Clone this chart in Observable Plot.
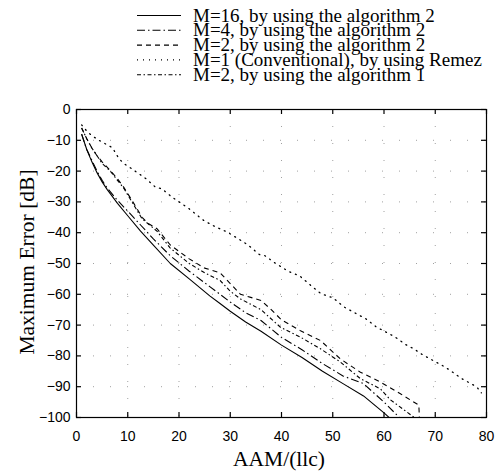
<!DOCTYPE html>
<html><head><meta charset="utf-8">
<script src="https://cdn.jsdelivr.net/npm/d3@7"></script>
<script src="https://cdn.jsdelivr.net/npm/@observablehq/plot@0.6"></script>
<style>
body{margin:0;background:#fff;width:498px;height:475px;overflow:hidden;position:relative}
#legend{position:absolute;left:0;top:0}
#chart{position:absolute;left:0;top:95px}
</style>
</head><body>
<div id="legend"></div>
<div id="chart"></div>
<script>
// ---- data ----
const xTicks = [0,10,20,30,40,50,60,70,80];
const yTicks = [0,-10,-20,-30,-40,-50,-60,-70,-80,-90,-100];
const xLabel = "AAM/(llc)";
const yLabel = "Maximum Error [dB]";
const seriesNames = [
  "M=16, by using the algorithm 2",
  "M=4, by using the algorithm 2",
  "M=2, by using the algorithm 2",
  "M=1 (Conventional), by using Remez",
  "M=2, by using the algorithm 1"
];
const seriesDash = ["none","8,3,1.5,3","5,4","1,5","4,2.5,1.5,2.5"];

const m16X = [1,2,3,4,5,6,8,10,12.5,15,18.3,22,26,28,30,33,36,40,44,48,52,56,60,61];
const m16Y = [-8,-13,-17,-20.5,-23.5,-26,-30.5,-34.5,-39.5,-44,-50,-55,-60.5,-63,-65.5,-69,-72,-76.5,-80.5,-85,-89,-93,-98.5,-100];

const m4X = [1,2,3,4,5,6,8,10,12.5,15,18.3,22,26,30,33,36,40,44,48,52,56,60,63];
const m4Y = [-8,-13,-16.5,-20,-23,-25.5,-29.5,-33,-37.5,-42,-47.5,-52.5,-57.5,-62.5,-66,-68.5,-74,-78,-82.5,-86.5,-89,-95,-100];

const m2a2X = [1,2,3,4,5,6.6,8,9.2,11,12.8,14,15.7,18.3,22,25,28,30,32,34,36,38,40,43.7,47.6,51.5,55.4,59.3,63.2,66.8,66.9];
const m2a2Y = [-6,-9.5,-12.5,-15,-17,-19.8,-22.5,-25.2,-30,-35,-37,-38.7,-44,-48.5,-51.5,-53,-56.5,-60,-61,-62,-65,-68.3,-71.8,-75,-81,-85.3,-88.5,-92.3,-96,-100];

const m1X = [1,2,3,4.4,5.7,7,8.3,9.3,11,13.5,15.4,16.7,18.6,21.8,24.8,27,29.4,31.2,33.4,35.7,36.7,38.7,41.3,43.6,45.7,47.7,50.1,52.2,54.5,56.5,58.5,62.1,64.4,65.7,67.6,71.8,72.8,75.1,77.4,78.3,79];
const m1Y = [-5,-7,-8.5,-10,-11.2,-12.4,-16,-17.6,-19.5,-22.4,-25.2,-25.8,-28.4,-32,-36,-38,-39.8,-41.6,-43.9,-47.1,-47.4,-49.8,-52.5,-54.1,-57.1,-59.8,-61.2,-64.1,-66.2,-68,-70.6,-73.8,-76.5,-77.6,-79.7,-83.5,-84.6,-87.3,-89.4,-90.5,-92];

const m2a1X = [1,2,3,4,5,6.6,8,9.2,11,12.8,15.7,18.3,22,25,28,30,32,36,39.8,43.7,47.6,51.5,55.4,59.3,61.2,65.9];
const m2a1Y = [-6,-9.5,-12.5,-15,-17.5,-20,-23,-25.5,-30.5,-35.5,-39.5,-45,-50,-53,-55.5,-59,-61.5,-65,-70.7,-73.9,-77.7,-82,-87.4,-90.7,-94.2,-100];

const seriesX = [m16X, m4X, m2a2X, m1X, m2a1X];
const seriesY = [m16Y, m4Y, m2a2Y, m1Y, m2a1Y];

// ---- chart ----
const W = 498, H = 380, mL = 76, mR = 12, mT = 14, mB = 58;
const pw = W - mL - mR, ph = H - mT - mB, tk = 5;

const lineMarks = seriesX.map((xs, i) => Plot.line(xs.map((x, j) => ({x, y: seriesY[i][j]})), {
  x: "x", y: "y", stroke: "#000", strokeWidth: i === 3 ? 1.3 : 1.1,
  strokeDasharray: seriesDash[i] === "none" ? null : seriesDash[i],
  strokeLinecap: i === 3 ? "round" : "butt", clip: true
}));

const chart = Plot.plot({
  width: W, height: H, marginLeft: mL, marginRight: mR, marginTop: mT, marginBottom: mB,
  style: {background: "#fff", color: "#000"},
  x: {domain: [0, 80]},
  y: {domain: [-100, 0]},
  marks: [
    Plot.gridX(xTicks, {stroke: "#777", strokeOpacity: 0.7, strokeDasharray: "1,16"}),
    Plot.gridY(yTicks, {stroke: "#777", strokeOpacity: 0.7, strokeDasharray: "1,16"}),
    ...lineMarks,
    Plot.frame({stroke: "#000", strokeWidth: 1.2}),
    Plot.tickX(xTicks, {x: d => d, insetTop: ph - tk, stroke: "#000", strokeWidth: 1.2}),
    Plot.tickX(xTicks, {x: d => d, insetBottom: ph - tk, stroke: "#000", strokeWidth: 1.2}),
    Plot.tickY(yTicks, {y: d => d, insetRight: pw - tk, stroke: "#000", strokeWidth: 1.2}),
    Plot.tickY(yTicks, {y: d => d, insetLeft: pw - tk, stroke: "#000", strokeWidth: 1.2}),
    Plot.axisX(xTicks, {tickSize: 0, tickPadding: 14, label: null, fontSize: 14, fontFamily: "Liberation Sans, Arial, sans-serif"}),
    Plot.axisY(yTicks, {tickSize: 0, tickPadding: 6, label: null, fontSize: 14, fontFamily: "Liberation Sans, Arial, sans-serif"})
  ]
});
document.getElementById("chart").appendChild(chart);

const svg = d3.select(chart);
svg.append("text").text(xLabel)
  .attr("x", mL + pw / 2 - 2).attr("y", 371)
  .attr("text-anchor", "middle").attr("font-family", "Liberation Serif, Times New Roman, serif")
  .attr("font-size", 21.5).attr("fill", "#000");
svg.append("text").text(yLabel)
  .attr("transform", `translate(33.5,${mT + ph / 2 - 1}) rotate(-90)`)
  .attr("text-anchor", "middle").attr("font-family", "Liberation Serif, Times New Roman, serif")
  .attr("font-size", 21.5).attr("fill", "#000");

// ---- legend ----
const leg = d3.select("#legend").append("svg").attr("width", W).attr("height", 95);
const legY0 = 15.5, legDy = 14.8;
seriesNames.forEach((name, i) => {
  const y = legY0 + i * legDy;
  leg.append("line").attr("x1", 137).attr("x2", 181).attr("y1", y).attr("y2", y)
    .attr("stroke", "#000").attr("stroke-width", 1.1)
    .attr("stroke-dasharray", seriesDash[i] === "none" ? null : seriesDash[i]);
  leg.append("text").text(name).attr("x", 193).attr("y", y + 6)
    .attr("font-family", "Liberation Serif, Times New Roman, serif")
    .attr("font-size", 19).attr("fill", "#000");
});
</script>
</body></html>
